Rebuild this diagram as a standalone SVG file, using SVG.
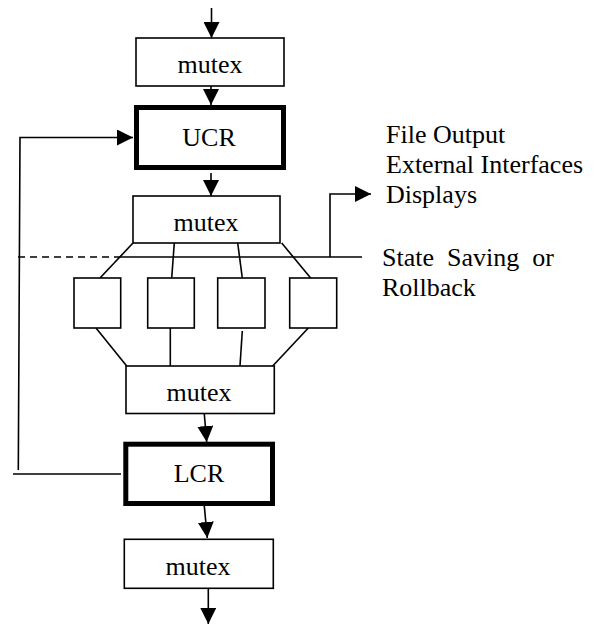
<svg xmlns="http://www.w3.org/2000/svg" width="597" height="625" viewBox="0 0 597 625">
<style>
.box{fill:#fff;stroke:#000;stroke-width:1.6}
.thick{fill:#fff;stroke:#000;stroke-width:5}
.ln{fill:none;stroke:#000;stroke-width:1.6}
.dash{fill:none;stroke:#000;stroke-width:1.4;stroke-dasharray:7,5}
text{font-family:"Liberation Serif","Times New Roman",serif;font-size:26px;fill:#000}
.c{text-anchor:middle}
</style>
<defs>
<marker id="ah" markerWidth="16" markerHeight="16" viewBox="0 0 16 16" refX="16" refY="8" orient="auto" markerUnits="userSpaceOnUse">
<path d="M0,0 L16,8 L0,16 Z" fill="#000"/>
</marker>
</defs>
<g id="connectors">
<line class="ln" x1="211.5" y1="8" x2="211.5" y2="38" marker-end="url(#ah)"/>
<line class="ln" x1="211" y1="86" x2="211" y2="105" marker-end="url(#ah)"/>
<line class="ln" x1="211" y1="173" x2="211" y2="196" marker-end="url(#ah)"/>
<polyline class="ln" points="18.3,470 20,137.5 133,137.5" marker-end="url(#ah)"/>
<line class="ln" x1="13" y1="474" x2="121" y2="474"/>
<line class="dash" x1="18" y1="257" x2="120" y2="257"/>
<line class="ln" x1="120" y1="257" x2="362" y2="257"/>
<polyline class="ln" points="330,257 330,194 371,194" marker-end="url(#ah)"/>
<line class="ln" x1="133" y1="243" x2="100" y2="278"/>
<line class="ln" x1="174.3" y1="243" x2="171.7" y2="278"/>
<line class="ln" x1="237.7" y1="243" x2="242.3" y2="278"/>
<line class="ln" x1="281.7" y1="243" x2="312.3" y2="280"/>
<line class="ln" x1="96" y1="328" x2="126.7" y2="366"/>
<line class="ln" x1="170.3" y1="328" x2="170.3" y2="366"/>
<line class="ln" x1="242.3" y1="331" x2="240" y2="366"/>
<line class="ln" x1="308.3" y1="328" x2="272.7" y2="366"/>
<line class="ln" x1="204.3" y1="414" x2="206.7" y2="442" marker-end="url(#ah)"/>
<line class="ln" x1="204.3" y1="506" x2="207.3" y2="538" marker-end="url(#ah)"/>
<line class="ln" x1="208.3" y1="588" x2="208.3" y2="624" marker-end="url(#ah)"/>
</g>
<g id="mutex1"><rect class="box" x="136" y="38" width="148" height="48"/><text class="c" x="210" y="73">mutex</text></g>
<g id="ucr"><rect class="thick" x="136.5" y="107.5" width="147" height="60"/><text class="c" x="209" y="146">UCR</text></g>
<g id="mutex2"><rect class="box" x="133" y="196" width="147" height="47"/><text class="c" x="206" y="231">mutex</text></g>
<g id="p1"><rect class="box" x="74" y="278" width="46.7" height="50"/></g>
<g id="p2"><rect class="box" x="147.7" y="278" width="46.6" height="50"/></g>
<g id="p3"><rect class="box" x="217.7" y="278" width="47.3" height="50"/></g>
<g id="p4"><rect class="box" x="289.7" y="278" width="47" height="50"/></g>
<g id="mutex3"><rect class="box" x="126" y="366" width="148.3" height="47.5"/><text class="c" x="199" y="401">mutex</text></g>
<g id="lcr"><rect class="thick" x="125.8" y="444.2" width="146.7" height="59.3"/><text class="c" x="199" y="482">LCR</text></g>
<g id="mutex4"><rect class="box" x="124.3" y="539.3" width="149" height="49"/><text class="c" x="198" y="575">mutex</text></g>
<g id="labels">
<text x="386" y="143">File Output</text>
<text x="386" y="173">External Interfaces</text>
<text x="386" y="203">Displays</text>
<text x="382" y="266" word-spacing="6.5">State Saving or</text>
<text x="382" y="296">Rollback</text>
</g>
</svg>
